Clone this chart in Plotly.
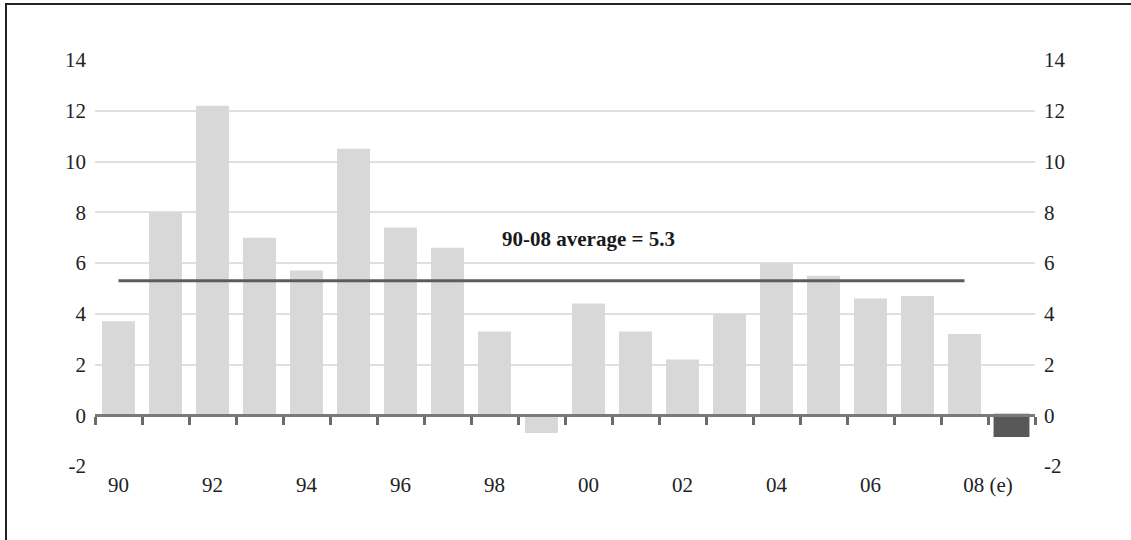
import plotly.graph_objects as go

# Annual growth (%), 1990-2009; last bar is the estimate
years = ["90", "91", "92", "93", "94", "95", "96", "97", "98", "99",
         "00", "01", "02", "03", "04", "05", "06", "07", "08", "09"]
growth = [3.7, 8.0, 12.2, 7.0, 5.7, 10.5, 7.4, 6.6, 3.3, -0.7,
          4.4, 3.3, 2.2, 4.0, 6.0, 5.5, 4.6, 4.7, 3.2, -0.8]
estimate_flags = [False] * 19 + [True]

average_value = 5.3
average_from, average_to = "90", "08"
average_label = "90-08 average = 5.3"

label_years = ["90", "92", "94", "96", "98", "00", "02", "04", "06", "08"]
label_texts = ["90", "92", "94", "96", "98", "00", "02", "04", "06", "08 (e)"]

y_ticks = [-2, 0, 2, 4, 6, 8, 10, 12, 14]
y_tick_texts = ["-2", "0", "2", "4", "6", "8", "10", "12", "14"]

FONT = "Liberation Serif, Times New Roman, serif"
LIGHT = "#d8d8d8"
DARK = "#585858"

W, H = 1131, 540
ML, MR, MT, MB = 95, 96, 60, 74
Y_MIN, Y_MAX = -2, 14

xpos = list(range(len(years)))
colors = [DARK if e else LIGHT for e in estimate_flags]
line_colors = [DARK if e else "rgba(0,0,0,0)" for e in estimate_flags]

fig = go.Figure()
fig.add_trace(go.Bar(
    x=xpos, y=growth, width=0.7,
    marker=dict(color=colors, line=dict(color=line_colors, width=3)),
    hoverinfo="skip",
))

# average line lives on the secondary axes so both get drawn
i0, i1 = years.index(average_from), years.index(average_to)
fig.add_trace(go.Scatter(
    x=[xpos[i0], xpos[i1]], y=[average_value, average_value],
    xaxis="x2", yaxis="y2",
    mode="lines", line=dict(color="#5c5c5c", width=3),
    hoverinfo="skip",
))

fig.add_annotation(
    x=10, y=6.95, xref="x", yref="y",
    text="<b>%s</b>" % average_label, showarrow=False,
    font=dict(family=FONT, size=21, color="#1a1a1a"),
)

# the longer "(e)" label sits between its bar and the estimate bar
label_pos = [years.index(y) for y in label_years]
label_pos[-1] += 0.5

tick_font = dict(family=FONT, size=21, color="#222222")
x_range = [-0.5, len(years) - 0.5]

fig.update_layout(
    width=W, height=H,
    margin=dict(l=ML, r=MR, t=MT, b=MB),
    paper_bgcolor="white", plot_bgcolor="white",
    showlegend=False,
    xaxis=dict(
        range=x_range, showgrid=False, zeroline=False, showline=False,
        tickvals=label_pos, ticktext=label_texts,
        tickfont=tick_font, ticks="", ticklabelstandoff=4,
    ),
    # zero baseline with boundary ticks
    xaxis2=dict(
        overlaying="x", matches="x", anchor="free",
        position=(0 - Y_MIN) / (Y_MAX - Y_MIN),
        showgrid=False, zeroline=False, showline=True,
        linecolor="#7a7a7a", linewidth=3,
        ticks="outside", ticklen=8, tickwidth=3, tickcolor="#6a6a6a",
        tickvals=[i - 0.5 for i in range(len(years) + 1)],
        showticklabels=False,
    ),
    yaxis=dict(
        range=[Y_MIN, Y_MAX], tickvals=y_ticks, ticktext=y_tick_texts,
        showgrid=True, gridcolor="#e0e0e0", gridwidth=2,
        zeroline=False, showline=False,
        tickfont=tick_font, ticks="", ticklabelstandoff=8,
    ),
    yaxis2=dict(
        overlaying="y", matches="y", side="right", anchor="x",
        tickvals=y_ticks, ticktext=y_tick_texts,
        showgrid=False, zeroline=False, showline=False,
        tickfont=tick_font, ticks="", ticklabelstandoff=8,
    ),
)

# outer frame (runs off the right and bottom edges)
pw, ph = W - ML - MR, H - MT - MB
fig.add_shape(
    type="rect", xref="paper", yref="paper",
    x0=(6 - ML) / pw, x1=(W + 20 - ML) / pw,
    y0=-(MB + 20) / ph, y1=(H - MB - 4) / ph,
    line=dict(color="#222222", width=2), fillcolor="rgba(0,0,0,0)",
)

fig.write_html("out.html")
